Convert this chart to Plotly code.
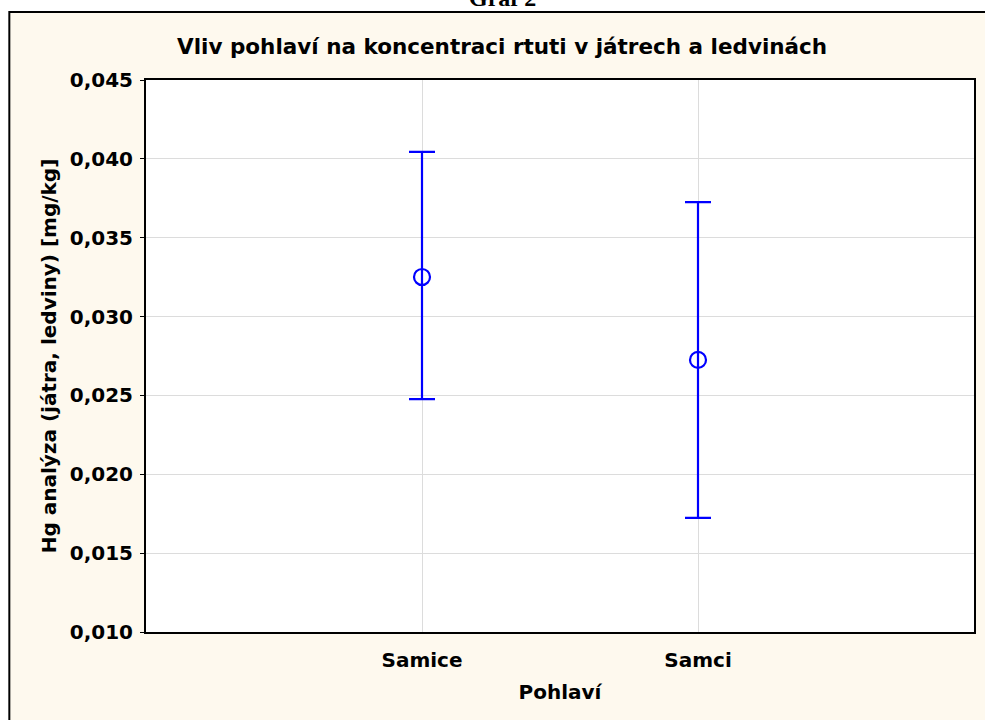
import plotly.graph_objects as go

categories = ["Samice", "Samci"]
means = [0.03251, 0.02725]
upper = [0.04044, 0.03726]
lower = [0.02477, 0.01723]
y_ticks = [0.010, 0.015, 0.020, 0.025, 0.030, 0.035, 0.040, 0.045]

err_plus = [u - m for u, m in zip(upper, means)]
err_minus = [m - l for m, l in zip(means, lower)]

W, H = 985, 720
L, R, T, B = 146, 976, 80, 632

def px_x(p):
    return (p - L) / (R - L)

def px_y(p):
    return (B - p) / (B - T)

blue = "#0000FF"
fig = go.Figure()
fig.add_trace(go.Scatter(
    x=[0, 1], y=means, mode="markers",
    marker=dict(symbol="circle-open", size=16, color=blue, line=dict(width=2.2, color=blue)),
    error_y=dict(type="data", symmetric=False, array=err_plus, arrayminus=err_minus,
                 color=blue, thickness=2.2, width=13),
    showlegend=False, hoverinfo="skip",
))

font_family = "DejaVu Sans, Verdana, sans-serif"
fs = 20
fig.update_layout(
    width=W, height=H,
    margin=dict(l=L, r=W - R, t=T, b=H - B),
    paper_bgcolor="#FEF9EE",
    plot_bgcolor="white",
    font=dict(family=font_family, size=fs, color="black"),
    title=dict(text="<b>Vliv pohlaví na koncentraci rtuti v játrech a ledvinách</b>",
               x=px_x(503), xref="paper", xanchor="center", y=1 - 46 / H, yanchor="middle",
               font=dict(size=21.5, family=font_family)),
    xaxis=dict(range=[-1, 2], tickvals=[0, 1], ticktext=["<b>" + c + "</b>" for c in categories],
               showgrid=True, gridcolor="#DCDCDC", gridwidth=1,
               showline=True, linecolor="black", linewidth=2, mirror=True,
               ticks="", zeroline=False, ticklabelstandoff=9,
               title=dict(text="<b>Pohlaví</b>", standoff=14, font=dict(size=fs))),
    yaxis=dict(range=[0.010, 0.045], tickvals=y_ticks,
               ticktext=["<b>" + f"{v:.3f}".replace(".", ",") + "</b>" for v in y_ticks],
               showgrid=True, gridcolor="#DCDCDC", gridwidth=1,
               showline=True, linecolor="black", linewidth=2, mirror=True,
               ticks="outside", ticklen=4, tickcolor="black", zeroline=False, ticklabelstandoff=3,
               title=dict(text="<b>Hg analýza (játra, ledviny) [mg/kg]</b>", standoff=8, font=dict(size=fs))),
    shapes=[
        dict(type="rect", xref="paper", yref="paper", x0=px_x(-20), x1=px_x(W + 20),
             y0=px_y(12), y1=px_y(-20), fillcolor="white", line=dict(width=0), layer="below"),
        dict(type="rect", xref="paper", yref="paper", x0=px_x(-20), x1=px_x(9),
             y0=px_y(H + 20), y1=px_y(-20), fillcolor="white", line=dict(width=0), layer="below"),
        dict(type="rect", xref="paper", yref="paper", x0=px_x(9), x1=px_x(W + 20),
             y0=px_y(H + 20), y1=px_y(12), fillcolor="rgba(0,0,0,0)", line=dict(width=2, color="black")),
    ],
    annotations=[
        dict(text="<b>Graf 2</b>", xref="paper", yref="paper", x=px_x(503), y=px_y(-2),
             xanchor="center", yanchor="middle", showarrow=False,
             font=dict(family="Liberation Serif, Times New Roman, serif", size=24, color="black")),
    ],
)

fig.write_html("out.html", config={"displayModeBar": False},
               post_script="document.body.style.margin='0';document.body.style.padding='0';")
